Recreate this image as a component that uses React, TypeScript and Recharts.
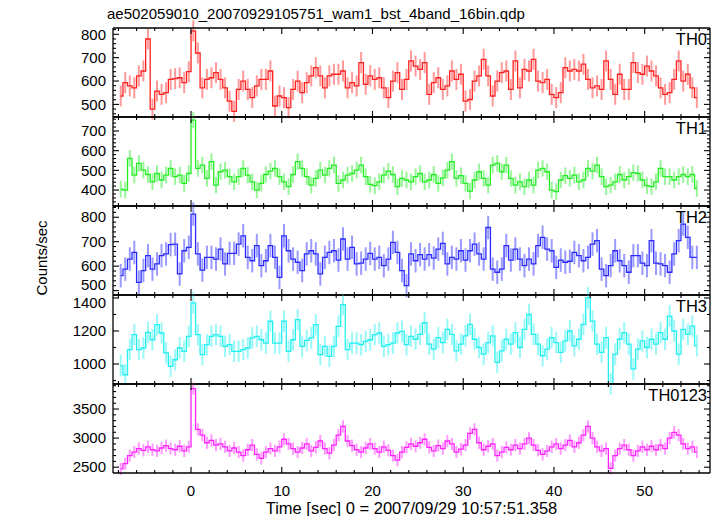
import React from 'react';
import { LineChart, Line, XAxis, YAxis, ErrorBar } from 'recharts';

// ---- data: 0.5 s bins, rates in counts/sec ----
const TIME_START = -7.75;
const BIN_WIDTH = 0.5;

const TH0_RATE = [
  536, 593, 579, 571, 622, 643, 780, 480, 557, 543,
  550, 607, 610, 614, 593, 640, 815, 720, 571, 607,
  614, 636, 607, 571, 514, 470, 564, 600, 564, 529,
  579, 607, 607, 643, 493, 536, 529, 486, 564, 600,
  550, 593, 622, 657, 622, 571, 622, 629, 629, 643,
  571, 593, 579, 679, 586, 622, 607, 614, 571, 529,
  600, 636, 564, 607, 686, 664, 650, 679, 543, 593,
  614, 564, 579, 643, 607, 629, 514, 521, 600, 622,
  693, 622, 536, 600, 636, 643, 564, 686, 571, 650,
  643, 693, 600, 593, 607, 543, 529, 550, 657, 643,
  650, 643, 672, 607, 571, 579, 564, 686, 607, 543,
  629, 564, 564, 679, 636, 629, 664, 643, 622, 571,
  543, 550, 607, 686, 600, 629, 571, 529,
];

const TH1_RATE = [
  405, 400, 561, 476, 535, 501, 479, 442, 484, 451,
  476, 510, 468, 476, 434, 484, 755, 510, 527, 459,
  544, 425, 493, 501, 468, 442, 468, 510, 476, 442,
  400, 434, 479, 496, 510, 468, 442, 417, 479, 544,
  510, 468, 425, 459, 501, 476, 510, 527, 434, 451,
  476, 484, 501, 527, 468, 429, 422, 442, 476, 496,
  479, 417, 459, 451, 442, 468, 484, 442, 451, 479,
  434, 462, 501, 544, 459, 473, 434, 395, 451, 493,
  459, 425, 527, 535, 493, 527, 459, 425, 442, 417,
  451, 425, 501, 510, 493, 400, 392, 451, 473, 459,
  476, 442, 451, 510, 496, 527, 468, 417, 425, 442,
  479, 451, 468, 488, 484, 451, 422, 417, 442, 510,
  468, 468, 451, 468, 479, 468, 479, 408,
];

const TH2_RATE = [
  561, 588, 629, 656, 534, 582, 643, 588, 609, 643,
  650, 688, 690, 568, 663, 677, 813, 650, 584, 636,
  636, 629, 670, 609, 652, 652, 690, 724, 636, 622,
  684, 602, 622, 684, 636, 554, 724, 663, 629, 616,
  582, 650, 663, 650, 568, 636, 656, 663, 625, 711,
  629, 677, 609, 612, 629, 652, 629, 636, 602, 629,
  697, 656, 582, 520, 650, 622, 647, 629, 647, 633,
  670, 693, 609, 636, 629, 663, 625, 663, 690, 650,
  629, 758, 588, 575, 588, 684, 625, 670, 629, 602,
  629, 609, 684, 718, 670, 663, 595, 625, 616, 620,
  656, 643, 622, 636, 690, 704, 588, 561, 602, 663,
  622, 602, 575, 643, 643, 612, 602, 704, 612, 609,
  602, 575, 650, 704, 772, 718, 636, 636,
];

const TH3_RATE = [
  990, 935, 1087, 1178, 1087, 1097, 1192, 1147, 1238, 1188,
  1067, 986, 1026, 1097, 1077, 1168, 1370, 1178, 1057, 1117,
  1168, 1178, 1168, 1107, 1117, 1077, 1077, 1087, 1097, 1158,
  1168, 1147, 1127, 1259, 1127, 1127, 1259, 1077, 1147, 1269,
  1107, 1143, 1158, 1238, 1057, 1107, 1046, 1107, 1228, 1360,
  1087, 1127, 1127, 1117, 1137, 1147, 1178, 1188, 1107, 1117,
  1127, 1188, 1198, 1117, 1168, 1150, 1180, 1250, 1120, 1090,
  1160, 1130, 1210, 1180, 1080, 1120, 1170, 1240, 1150, 1100,
  1060, 1130, 1170, 1010, 1080, 1150, 1120, 1190, 1100, 1210,
  1300, 1180, 1120, 1050, 1090, 1160, 1130, 1070, 1140, 1200,
  1110, 1150, 1240, 1400, 1260, 1120, 1070, 1160, 880, 1060,
  1150, 1190, 1120, 970, 1090, 1140, 1100, 1150, 1120, 1190,
  1150, 1290, 1200, 1060, 1210, 1180, 1230, 1110,
];

const TH0123_RATE = [
  2470, 2560, 2700, 2760, 2820, 2790, 2850, 2800, 2780, 2830,
  2870, 2820, 2800, 2860, 2780, 2850, 3850, 3150, 3050, 2920,
  2960, 2880, 2900, 2850, 2780, 2830, 2760, 2700, 2800, 2880,
  2720, 2650, 2760, 2820, 2780, 2850, 2980, 2900, 2820, 2760,
  2830, 2900, 2780, 2840, 2950, 2820, 2740, 2880, 3050, 3200,
  2950, 2870, 2800, 2760, 2830, 2900, 2820, 2760, 2850, 2790,
  2700, 2620, 2760, 2840, 2900, 2860, 2920, 2980, 2840, 2780,
  2870, 2820, 2950, 2900, 2760, 2810, 2880, 3080, 3150, 2920,
  2800, 2860, 2900, 2700, 2760, 2840, 2800, 2880, 2820, 2900,
  3000, 2880, 2790, 2720, 2780, 2850, 2900, 2820, 2880, 2960,
  2850, 2920, 3050, 3200, 3000, 2850, 2780, 2820, 2480, 2700,
  2820, 2880, 2800, 2700, 2780, 2850, 2800, 2860, 2800, 2880,
  2820, 3000, 3100, 3050, 2900, 2820, 2850, 2760,
];

// typical 1-sigma error per bin (counts/sec)
const TH0_ERR = 45;
const TH1_ERR = 42;
const TH2_ERR = 48;
const TH3_ERR = 65;
const TH0123_ERR = 105;

const PANEL_LABELS = ['TH0', 'TH1', 'TH2', 'TH3', 'TH0123'];
const X_TICK_LABELS = [0, 10, 20, 30, 40, 50];
const TH0_TICKS = [500, 600, 700, 800];
const TH1_TICKS = [400, 500, 600, 700];
const TH2_TICKS = [500, 600, 700, 800];
const TH3_TICKS = [1000, 1200, 1400];
const TH0123_TICKS = [2500, 3000, 3500];

const TITLE = 'ae502059010_20070929105751_wam1_bst_4band_16bin.qdp';
const X_TITLE = 'Time [sec] 0 = 2007/09/29 10:57:51.358';
const Y_TITLE = 'Counts/sec';

// ---- layout / style ----
const FONT = '"Liberation Sans", Arial, Helvetica, sans-serif';
const W = 717;
const H = 516;
const PLOT_LEFT = 113;
const PLOT_RIGHT = 7;
const PANEL_H = 89;
const PANEL_TOPS = [28, 117, 206, 295, 384];
const X_DOMAIN: [number, number] = [-8.6, 57.2];

function range(a: number, b: number, s: number) {
  const out: number[] = [];
  for (let v = a; v <= b + 1e-9; v += s) out.push(Math.round(v * 1000) / 1000);
  return out;
}
const X_MINOR = range(-8, 56, 2);

const PANELS = [
  { values: TH0_RATE, err: TH0_ERR, domain: [446, 827], major: TH0_TICKS, minor: range(460, 820, 20), line: '#ff2020', errColor: '#ff9a9a', shift: {} as Record<number, number> },
  { values: TH1_RATE, err: TH1_ERR, domain: [319, 771], major: TH1_TICKS, minor: range(320, 760, 20), line: '#22ee22', errColor: '#99f599', shift: {} as Record<number, number> },
  { values: TH2_RATE, err: TH2_ERR, domain: [482, 846], major: TH2_TICKS, minor: range(500, 840, 20), line: '#2a2aff', errColor: '#9a9aff', shift: { 500: -6 } as Record<number, number> },
  { values: TH3_RATE, err: TH3_ERR, domain: [879, 1418], major: TH3_TICKS, minor: range(900, 1400, 100), line: '#22f0f0', errColor: '#9af8f8', shift: { 1400: 5 } as Record<number, number> },
  { values: TH0123_RATE, err: TH0123_ERR, domain: [2400, 3930], major: TH0123_TICKS, minor: range(2500, 3900, 100), line: '#ff22ff', errColor: '#ff9aff', shift: {} as Record<number, number> },
];

const AXIS_LINE = { stroke: '#000', strokeWidth: 1.3 };
const LABEL_SIZE = 15;

type Side = 'left' | 'right' | 'top' | 'bottom';
function makeTick(side: Side, major: number[], showLabel: boolean, shift: Record<number, number> = {}) {
  return (props: any) => {
    const { x, y, payload } = props;
    const v = payload.value;
    const isMajor = major.some((m) => Math.abs(m - v) < 1e-6);
    const len = isMajor ? 6 : 3;
    let x2 = x;
    let y2 = y;
    if (side === 'left') x2 = x + len;
    else if (side === 'right') x2 = x - len;
    else if (side === 'top') y2 = y + len;
    else y2 = y - len;
    return (
      <g>
        <line x1={x} y1={y} x2={x2} y2={y2} stroke="#000" strokeWidth={1.1} />
        {showLabel && isMajor && side === 'left' && (
          <text x={x - 7} y={y + (shift[v] || 0)} dy="0.35em" textAnchor="end" fontSize={LABEL_SIZE} fontFamily={FONT} fill="#000">
            {v}
          </text>
        )}
        {showLabel && isMajor && side === 'bottom' && (
          <text x={x} y={y + 12} dy="0.71em" textAnchor="middle" fontSize={LABEL_SIZE} fontFamily={FONT} fill="#000">
            {v}
          </text>
        )}
      </g>
    );
  };
}

function Panel({ idx }: { idx: number }) {
  const p = PANELS[idx];
  const last = idx === PANELS.length - 1;
  const data = p.values.map((v, i) => ({ t: TIME_START + i * BIN_WIDTH, v, err: p.err }));
  const xTicks = X_MINOR.concat(X_TICK_LABELS.filter((t) => !X_MINOR.includes(t)));
  const yTicks = p.minor.concat(p.major.filter((m) => !p.minor.includes(m)));
  return (
    <div style={{ position: 'absolute', left: 0, top: PANEL_TOPS[idx] - 1 }}>
      <LineChart width={W} height={PANEL_H + 2} data={data} margin={{ top: 0, right: 0, bottom: 0, left: 0 }}>
        <XAxis xAxisId="main" dataKey="t" type="number" domain={X_DOMAIN} allowDataOverflow orientation="bottom"
          ticks={xTicks} height={1} tickSize={0} tickMargin={0} interval={0}
          tick={makeTick('bottom', X_TICK_LABELS, last)} tickLine={false} axisLine={AXIS_LINE} />
        <XAxis xAxisId="top" dataKey="t" type="number" domain={X_DOMAIN} allowDataOverflow orientation="top"
          ticks={xTicks} height={1} tickSize={0} tickMargin={0} interval={0}
          tick={makeTick('top', X_TICK_LABELS, false)} tickLine={false} axisLine={AXIS_LINE} />
        <YAxis yAxisId="main" type="number" domain={p.domain} allowDataOverflow orientation="left" width={PLOT_LEFT}
          ticks={yTicks} tickSize={0} tickMargin={0} interval={0}
          tick={makeTick('left', p.major, true, p.shift)} tickLine={false} axisLine={AXIS_LINE} />
        <YAxis yAxisId="right" type="number" domain={p.domain} allowDataOverflow orientation="right" width={PLOT_RIGHT}
          ticks={yTicks} tickSize={0} tickMargin={0} interval={0}
          tick={makeTick('right', p.major, false)} tickLine={false} axisLine={AXIS_LINE} />
        <Line xAxisId="main" yAxisId="main" dataKey="v" type="step" stroke="none" dot={false} activeDot={false}
          isAnimationActive={false}>
          <ErrorBar dataKey="err" direction="y" width={0} stroke={p.errColor} strokeWidth={2} isAnimationActive={false} />
        </Line>
        <Line xAxisId="main" yAxisId="main" dataKey="v" type="step" stroke={p.line} strokeWidth={1.3} dot={false}
          activeDot={false} isAnimationActive={false} />
      </LineChart>
    </div>
  );
}

export default function App() {
  return (
    <div style={{ position: 'absolute', left: 0, top: 0, width: W, height: H, background: '#fff', fontFamily: FONT, color: '#000' }}>
      <style>{'.recharts-surface{overflow:visible}'}</style>
      {PANELS.map((_, i) => (
        <Panel key={i} idx={i} />
      ))}
      {PANEL_LABELS.map((lab, i) => (
        <div key={lab} style={{ position: 'absolute', right: 10, top: PANEL_TOPS[i] + 2, fontSize: 16.5, lineHeight: '18px', textAlign: 'right' }}>
          {lab}
        </div>
      ))}
      <div style={{ position: 'absolute', left: 107, top: 5, fontSize: 15, lineHeight: '18px', whiteSpace: 'nowrap' }}>{TITLE}</div>
      <div style={{ position: 'absolute', left: PLOT_LEFT, width: W - PLOT_LEFT - PLOT_RIGHT, top: 499, fontSize: 16.5, lineHeight: '18px', textAlign: 'center', whiteSpace: 'nowrap' }}>
        {X_TITLE}
      </div>
      <div style={{ position: 'absolute', left: 42, top: 258, transform: 'translate(-50%, -50%) rotate(-90deg)', fontSize: 15, lineHeight: '18px', whiteSpace: 'nowrap' }}>
        {Y_TITLE}
      </div>
    </div>
  );
}
